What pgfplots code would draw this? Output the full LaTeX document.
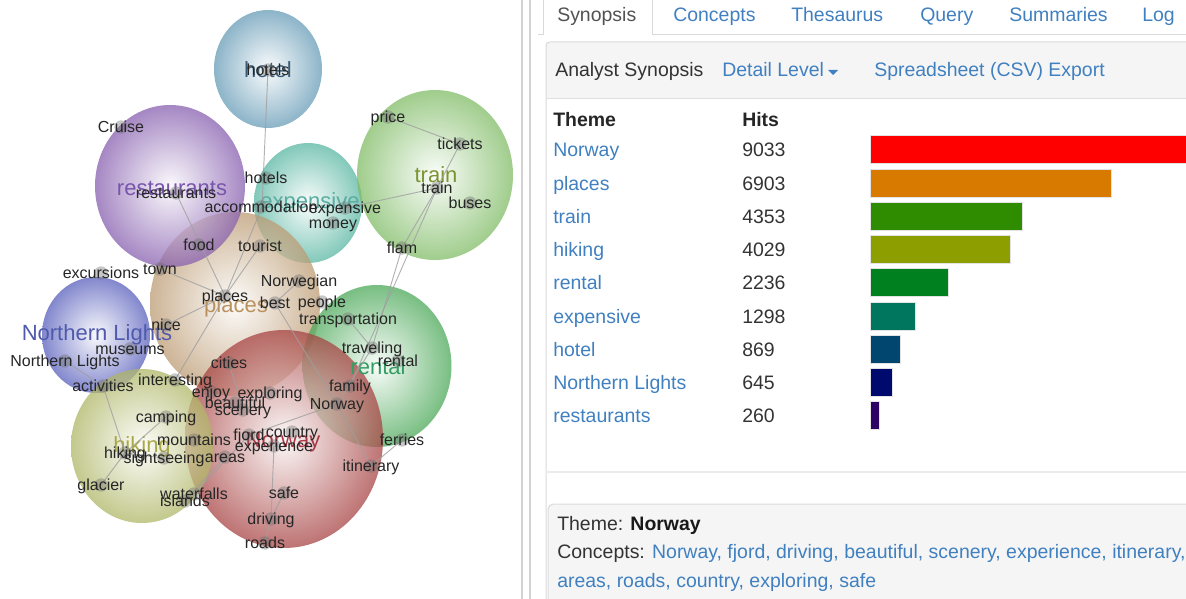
\documentclass[border=0pt]{standalone}
\usepackage{pgfplots}
\pgfplotsset{compat=1.18}
\usepackage{fontspec}
\setmainfont{Liberation Sans}
\usetikzlibrary{shapes.geometric}

\definecolor{linkblue}{RGB}{64,128,192}
\definecolor{txt}{RGB}{51,51,51}
% bubbles
\definecolor{bHotel}{RGB}{102,155,182}
\definecolor{bRest}{RGB}{135,95,175}
\definecolor{bExp}{RGB}{88,182,162}
\definecolor{bTrain}{RGB}{128,188,102}
\definecolor{bPlaces}{RGB}{188,155,115}
\definecolor{bNL}{RGB}{88,95,188}
\definecolor{bRental}{RGB}{75,168,88}
\definecolor{bNorway}{RGB}{168,68,68}
\definecolor{bHiking}{RGB}{175,182,102}
% theme labels
\definecolor{tHotel}{RGB}{60,92,118}
\definecolor{tRest}{RGB}{120,85,172}
\definecolor{tExp}{RGB}{90,172,162}
\definecolor{tTrain}{RGB}{125,148,50}
\definecolor{tPlaces}{RGB}{185,145,95}
\definecolor{tNL}{RGB}{80,90,172}
\definecolor{tRental}{RGB}{50,158,100}
\definecolor{tNorway}{RGB}{170,55,70}
\definecolor{tHiking}{RGB}{168,168,70}
% bars
\definecolor{barNorway}{RGB}{255,0,0}
\definecolor{barPlaces}{RGB}{217,122,0}
\definecolor{barTrain}{RGB}{47,140,0}
\definecolor{barHiking}{RGB}{140,158,0}
\definecolor{barRental}{RGB}{0,128,30}
\definecolor{barExp}{RGB}{0,118,95}
\definecolor{barHotel}{RGB}{0,70,110}
\definecolor{barNL}{RGB}{0,10,110}
\definecolor{barRest}{RGB}{45,0,100}

\newcommand{\cfont}{\fontsize{12}{14}\selectfont}
\newcommand{\tfont}{\fontsize{16.5}{19}\selectfont}
\newcommand{\ufont}{\fontsize{14.6}{17}\selectfont}

\pgfplotsset{
  pixaxis/.style={at={(0,0)}, anchor=south west, scale only axis,
    width=889.5pt, height=449.25pt, xmin=0, xmax=1186, ymin=0, ymax=599,
    y dir=reverse, hide axis, clip=false},
  hiddenmarks/.style={only marks, mark=*, mark size=0.01pt,
    mark options={draw opacity=0, fill opacity=0}},
  bubble/.style n args={3}{hiddenmarks,
    nodes near coords={},
    every node near coord/.append style={ellipse, anchor=center, inner sep=0pt, outer sep=0pt,
      minimum width=#1, minimum height=#2, shading=radial, inner color=#3!5!white,
      outer color=#3, fill opacity=0.75, draw=none}},
  edge/.style={gray!75, line width=0.7pt, opacity=0.8, mark=none},
  bar/.style={xbar, bar width=21pt, bar shift=0pt, draw=gray!22, line width=0.75pt, fill=#1},
}

\begin{document}
\begin{tikzpicture}
% ================= bubbles (behind) =================
\begin{axis}[pixaxis]
\addplot[bubble={81pt}{88.5pt}{bHotel}] coordinates {(268,69)};
\addplot[bubble={81pt}{90pt}{bExp}] coordinates {(308,203)};
\addplot[bubble={117pt}{127.5pt}{bTrain}] coordinates {(435,175)};
\addplot[bubble={127.5pt}{138pt}{bPlaces}] coordinates {(235,304)};
\addplot[bubble={112.5pt}{121.5pt}{bRest}] coordinates {(170,186)};
\addplot[bubble={81pt}{87pt}{bNL}] coordinates {(96,335)};
\addplot[bubble={111.75pt}{121.5pt}{bRental}] coordinates {(377,366)};
\addplot[bubble={148.5pt}{163.5pt}{bNorway}] coordinates {(284,439)};
\addplot[bubble={106.5pt}{115.5pt}{bHiking}] coordinates {(142,446)};
\end{axis}

% ================= main layer =================
\begin{axis}[pixaxis]
% ---------- UI chrome ----------
\draw[gray!35, line width=0.9pt] (axis cs:522,0) -- (axis cs:522,599);
\draw[gray!35, line width=0.9pt] (axis cs:530,0) -- (axis cs:530,599);
\draw[gray!30, line width=0.75pt] (axis cs:538,35) -- (axis cs:543,35) -- (axis cs:543,0);
\draw[gray!30, line width=0.75pt] (axis cs:652,0) -- (axis cs:652,35) -- (axis cs:1190,35);
\fill[black!4] (axis cs:546,42) rectangle (axis cs:1195,99);
\draw[gray!30, line width=0.75pt, rounded corners=3pt] (axis cs:546,640) -- (axis cs:546,42) -- (axis cs:1200,42) -- (axis cs:1200,640);
\draw[gray!25, line width=0.75pt] (axis cs:546,99) -- (axis cs:1195,99);
\draw[gray!15, line width=1pt] (axis cs:546,472) -- (axis cs:1195,472);
\draw[gray!28, line width=0.75pt, fill=black!4, rounded corners=4pt] (axis cs:548,640) -- (axis cs:548,504) -- (axis cs:1205,504) -- (axis cs:1205,640) -- cycle;

% tabs
\node[anchor=base west, inner sep=0pt, font=\ufont, text=txt!85] at (axis cs:557,22) {Synopsis};
\node[anchor=base west, inner sep=0pt, font=\ufont, text=linkblue] at (axis cs:673,22) {Concepts};
\node[anchor=base west, inner sep=0pt, font=\ufont, text=linkblue] at (axis cs:791,22) {Thesaurus};
\node[anchor=base west, inner sep=0pt, font=\ufont, text=linkblue] at (axis cs:920,22) {Query};
\node[anchor=base west, inner sep=0pt, font=\ufont, text=linkblue] at (axis cs:1009,22) {Summaries};
\node[anchor=base west, inner sep=0pt, font=\ufont, text=linkblue] at (axis cs:1142,22) {Log};
% header
\node[anchor=base west, inner sep=0pt, font=\ufont, text=txt] at (axis cs:555,77) {Analyst Synopsis};
\node[anchor=base west, inner sep=0pt, font=\ufont, text=linkblue] at (axis cs:722,77) {Detail Level};
\fill[linkblue] (axis cs:828,70) -- (axis cs:838,70) -- (axis cs:833,75) -- cycle;
\node[anchor=base west, inner sep=0pt, font=\ufont, text=linkblue] at (axis cs:874,77) {Spreadsheet (CSV) Export};
\node[anchor=base west, inner sep=0pt, font=\ufont\bfseries, text=black!85] at (axis cs:553,127) {Theme};
\node[anchor=base west, inner sep=0pt, font=\ufont\bfseries, text=black!85] at (axis cs:742,127) {Hits};
% bottom box
\node[anchor=base west, inner sep=0pt, font=\ufont, text=txt] at (axis cs:557,530) {Theme: \textcolor{black!90}{\bfseries Norway}};
\node[anchor=base west, inner sep=0pt, font=\ufont, text=txt] at (axis cs:557,558) {Concepts: \textcolor{linkblue}{Norway, fjord, driving, beautiful, scenery, experience, itinerary,}};
\node[anchor=base west, inner sep=0pt, font=\ufont, text=linkblue] at (axis cs:557,587) {areas, roads, country, exploring, safe};

% theme labels
\node[anchor=base, inner sep=0pt, font=\tfont, text=tHotel, yshift=-5.9pt] at (axis cs:268,70) {hotel};
\node[anchor=base, inner sep=0pt, font=\tfont, text=tRest, yshift=-5.9pt] at (axis cs:172,188) {restaurants};
\node[anchor=base, inner sep=0pt, font=\tfont, text=tExp, yshift=-5.9pt] at (axis cs:310,201) {expensive};
\node[anchor=base, inner sep=0pt, font=\tfont, text=tTrain, yshift=-5.9pt] at (axis cs:436,175) {train};
\node[anchor=base, inner sep=0pt, font=\tfont, text=tPlaces, yshift=-5.9pt] at (axis cs:236,305) {places};
\node[anchor=base, inner sep=0pt, font=\tfont, text=tNL, yshift=-5.9pt] at (axis cs:97,333) {Northern Lights};
\node[anchor=base, inner sep=0pt, font=\tfont, text=tRental, yshift=-5.9pt] at (axis cs:378,367) {rental};
\node[anchor=base, inner sep=0pt, font=\tfont, text=tNorway, yshift=-5.9pt] at (axis cs:283,440) {Norway};
\node[anchor=base, inner sep=0pt, font=\tfont, text=tHiking, yshift=-5.9pt] at (axis cs:142,445) {hiking};

% ---------- edges ----------
\addplot[edge] coordinates {(268,70) (262,207) (225,296)};
\addplot[edge] coordinates {(225,296) (260,246)};
\addplot[edge] coordinates {(176,193) (225,296)};
\addplot[edge] coordinates {(160,269) (225,296)};
\addplot[edge] coordinates {(166,325) (225,296)};
\addplot[edge] coordinates {(225,296) (175,380)};
\addplot[edge] coordinates {(299,281) (275,303) (337,404)};
\addplot[edge] coordinates {(388,117) (460,144) (437,188) (345,208)};
\addplot[edge] coordinates {(437,188) (402,248) (372,348) (337,404)};
\addplot[edge] coordinates {(437,188) (350,386)};
\addplot[edge] coordinates {(348,319) (372,348)};
\addplot[edge] coordinates {(337,404) (249,435)};
\addplot[edge] coordinates {(337,404) (371,466) (402,440)};
\addplot[edge] coordinates {(274,446) (271,519) (265,543)};
\addplot[edge] coordinates {(284,493) (271,519)};
\addplot[edge] coordinates {(249,435) (194,494)};
\addplot[edge] coordinates {(225,457) (185,501)};
\addplot[edge] coordinates {(229,363) (243,410)};
\addplot[edge] coordinates {(65,361) (103,386) (125,453) (101,485)};
\addplot[edge] coordinates {(166,417) (125,453) (164,458)};

% ---------- concept dots ----------
\addplot[only marks, mark=*, mark size=5pt, draw=none,
  mark options={draw opacity=0, fill=gray!85!black, fill opacity=0.38}] coordinates {
(268,70) (121,127) (388,117) (460,144) (176,193) (266,178) (437,188) (470,203)
(261,207) (345,208) (333,223) (199,245) (260,246) (402,248) (101,273) (160,269)
(299,281) (225,296) (275,303) (322,302) (348,319) (166,325) (130,349) (372,348)
(65,361) (398,361) (229,363) (175,380) (103,386) (350,386) (211,392) (270,393)
(235,403) (337,404) (243,410) (166,417) (292,432) (249,435) (194,440) (402,440)
(274,446) (125,453) (225,457) (164,458) (371,466) (101,485) (284,493) (194,494)
(185,501) (271,519) (265,543)};

% ---------- concept labels ----------
\addplot[hiddenmarks,
  point meta=explicit symbolic, nodes near coords,
  every node near coord/.append style={anchor=base, yshift=-4pt, inner sep=0pt, font=\cfont,
    text=black!85, fill opacity=1, text opacity=1, draw opacity=1}]
coordinates {
(268,70) [hotels] (121,127) [Cruise] (388,117) [price] (460,144) [tickets]
(176,193) [restaurants] (266,178) [hotels] (437,188) [train] (470,203) [buses]
(261,207) [accommodation] (345,208) [expensive] (333,223) [money] (199,245) [food]
(260,246) [tourist] (402,248) [flam] (101,273) [excursions] (160,269) [town]
(299,281) [Norwegian] (225,296) [places] (275,303) [best] (322,302) [people]
(348,319) [transportation] (166,325) [nice] (130,349) [museums] (372,348) [traveling]
(65,361) [Northern Lights] (398,361) [rental] (229,363) [cities] (175,380) [interesting]
(103,386) [activities] (350,386) [family] (211,392) [enjoy] (270,393) [exploring]
(235,403) [beautiful] (337,404) [Norway] (243,410) [scenery] (166,417) [camping]
(292,432) [country] (249,435) [fjord] (194,440) [mountains] (402,440) [ferries]
(274,446) [experience] (125,453) [hiking] (225,457) [areas] (164,458) [sightseeing]
(371,466) [itinerary] (101,485) [glacier] (284,493) [safe] (194,494) [waterfalls]
(185,501) [islands] (271,519) [driving] (265,543) [roads]};
\end{axis}

% ================= bar chart =================
\begin{axis}[at={(652.5pt,124.78pt)}, anchor=south west, scale only axis,
  width=237pt, height=224.44pt, xmin=0, xmax=9033, ymin=0.5, ymax=9.5,
  y dir=reverse, clip=false, axis line style={draw=none}, xtick=\empty,
  ytick={1,2,3,4,5,6,7,8,9}, major tick length=0pt,
  yticklabels={Norway, places, train, hiking, rental, expensive, hotel, Northern Lights, restaurants},
  yticklabel style={anchor=base west, xshift=-237.75pt, yshift=-5.25pt, inner sep=0pt,
    font=\ufont, text=linkblue}]
\addplot[bar=barNorway] coordinates {(9033,1)};
\addplot[bar=barPlaces] coordinates {(6903,2)};
\addplot[bar=barTrain] coordinates {(4353,3)};
\addplot[bar=barHiking] coordinates {(4029,4)};
\addplot[bar=barRental] coordinates {(2236,5)};
\addplot[bar=barExp] coordinates {(1298,6)};
\addplot[bar=barHotel] coordinates {(869,7)};
\addplot[bar=barNL] coordinates {(645,8)};
\addplot[bar=barRest] coordinates {(260,9)};
\addplot[hiddenmarks,
  point meta=explicit symbolic, nodes near coords,
  every node near coord/.append style={anchor=base west, yshift=-5.25pt, inner sep=0pt, font=\ufont,
    text=txt, fill opacity=1, text opacity=1, draw opacity=1}]
coordinates {(-3659,1) [9033] (-3659,2) [6903] (-3659,3) [4353] (-3659,4) [4029]
(-3659,5) [2236] (-3659,6) [1298] (-3659,7) [869] (-3659,8) [645] (-3659,9) [260]};
\end{axis}

\pgfresetboundingbox
\path[use as bounding box] (0,0) rectangle (889.5pt,449.25pt);
\end{tikzpicture}
\end{document}
